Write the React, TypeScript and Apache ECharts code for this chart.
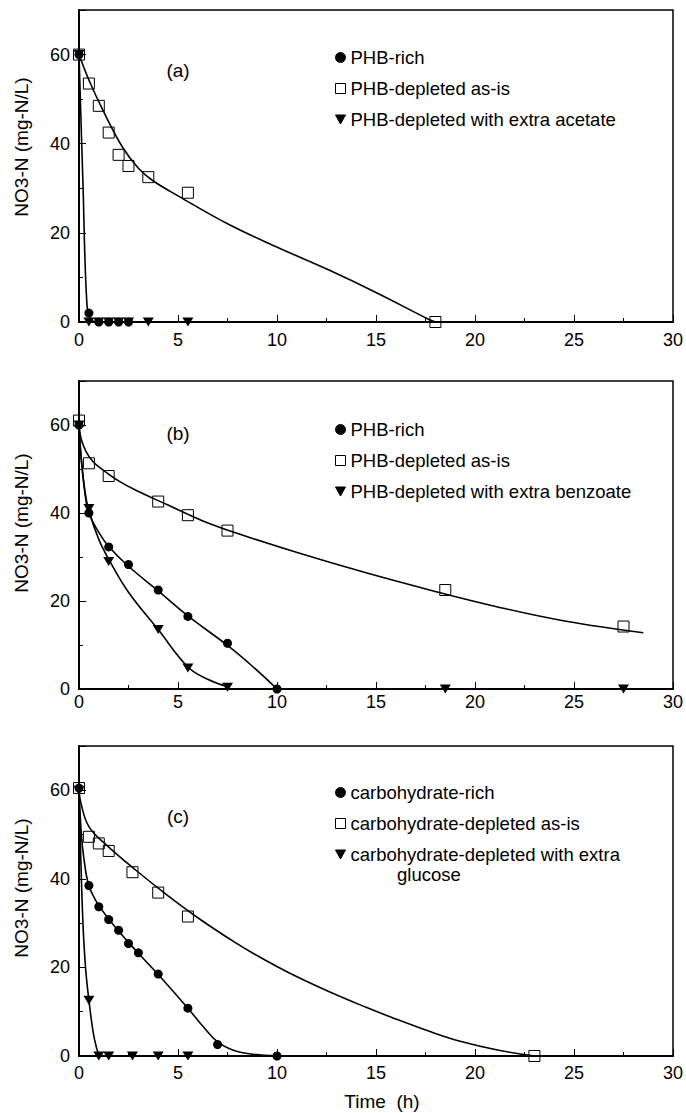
import React, { useEffect, useRef } from "react";
import * as echarts from "echarts";

// ---------- tick labels ----------
const xTickValues = [0, 5, 10, 15, 20, 25, 30];
const yTickValues = [0, 20, 40, 60];

// ---------- Panel (a) ----------
const aRichName = "PHB-rich";
const aDepName = "PHB-depleted as-is";
const aExtraName = "PHB-depleted with extra acetate";
const aRich = [[0, 60], [0.5, 2], [1, 0], [1.5, 0], [2, 0], [2.5, 0]];
const aDepleted = [[0, 60], [0.5, 53.5], [1, 48.5], [1.5, 42.5], [2, 37.5], [2.5, 35], [3.5, 32.5], [5.5, 29], [18, 0]];
const aExtra = [[0, 60], [0.5, 0], [1, 0], [1.5, 0], [2, 0], [2.5, 0], [3.5, 0], [5.5, 0]];
const aRichFit = [[0, 60], [0.2, 31], [0.4, 4], [0.6, 0.5], [1, 0], [5.5, 0]];
const aDepletedFit = [[0, 60], [0.5, 54.3], [1.2, 47.6], [2.2, 39.2], [3, 34.5], [3.7, 31.8], [5, 28.3], [7.6, 21.8], [10.1, 16.6], [12.6, 11.7], [15.1, 6.4], [17.7, 0.5], [18, 0]];

// ---------- Panel (b) ----------
const bRichName = "PHB-rich";
const bDepName = "PHB-depleted as-is";
const bExtraName = "PHB-depleted with extra benzoate";
const bRich = [[0, 60], [0.5, 40], [1.5, 32.3], [2.5, 28.3], [4, 22.5], [5.5, 16.5], [7.5, 10.4], [10, 0]];
const bDepleted = [[0, 61], [0.5, 51.3], [1.5, 48.4], [4, 42.6], [5.5, 39.5], [7.5, 36], [18.5, 22.5], [27.5, 14.2]];
const bExtra = [[0, 60], [0.5, 41], [1.5, 29], [4, 13.5], [5.5, 4.8], [7.5, 0.4], [18.5, 0], [27.5, 0]];
const bRichFit = [[0, 60], [0.1, 53], [0.3, 44.5], [0.5, 40], [1, 35.6], [1.5, 32.4], [2.5, 27.9], [4, 22.3], [5.5, 16.6], [7.5, 9.9], [8.8, 5], [10, 0]];
const bExtraFit = [[0, 60], [0.1, 53], [0.3, 45], [0.5, 40.5], [1, 34], [1.5, 29.5], [2.5, 22], [4, 13.5], [5.5, 5], [6.5, 2.2], [7.5, 0.5]];
const bDepletedFit = [[0, 60], [0.1, 57], [0.35, 54], [0.7, 51.7], [1.2, 49.8], [2, 47.3], [2.9, 45.1], [4.5, 41.8], [6.2, 38.3], [7.9, 35.5], [11.1, 30.9], [14.5, 26.4], [17.8, 22.4], [21.2, 18.6], [24.6, 15.4], [28.5, 12.8]];

// ---------- Panel (c) ----------
const cRichName = "carbohydrate-rich";
const cDepName = "carbohydrate-depleted as-is";
const cExtraName = "carbohydrate-depleted with extra glucose";
const cRich = [[0, 60.5], [0.5, 38.5], [1, 33.7], [1.5, 30.8], [2, 28.4], [2.5, 25.4], [3, 23.3], [4, 18.5], [5.5, 10.8], [7, 2.6], [10, 0]];
const cDepleted = [[0, 60.5], [0.5, 49.5], [1, 48], [1.5, 46.3], [2.7, 41.5], [4, 36.9], [5.5, 31.5], [23, 0]];
const cExtra = [[0, 60], [0.5, 12.6], [1, 0], [1.5, 0], [2.7, 0], [4, 0], [5.5, 0]];
const cRichFit = [[0, 60], [0.12, 50], [0.25, 44.5], [0.5, 38.5], [1, 34], [2, 28.2], [3, 23.2], [4, 18.4], [5.5, 10.8], [6.3, 6.5], [7, 3.2], [7.8, 1.3], [8.6, 0.5], [10, 0]];
const cDepletedFit = [[0, 60], [0.1, 57], [0.5, 51.8], [1.35, 47.8], [2.86, 42], [4.55, 36], [6.2, 30.6], [7.9, 25.6], [9.1, 22.4], [10.6, 18.8], [12.5, 14.8], [14.5, 11], [15.8, 8.7], [17.8, 5.4], [19.2, 3.4], [21.2, 1.3], [23, 0]];
const cExtraFit = [[0, 60], [0.12, 40], [0.22, 28], [0.34, 19.4], [0.5, 12.6], [0.7, 5.8], [0.85, 2.5], [1, 0.5], [1.2, 0], [5.5, 0]];

const FONT = "'Liberation Sans', Arial, Helvetica, sans-serif";
const TRI = "path://M0,0L10,0L5,9Z";

type PanelSpec = {
  top: number;
  height: number;
  label: string;
  labelY: number;
  nameY: number;
  xLabelMargin: number;
  legendTop: number;
  names: string[];
  rich: number[][];
  dep: number[][];
  extra: number[][];
  fits: number[][][];
};

const panels: PanelSpec[] = [
  { top: 10, height: 312, label: "(a)", labelY: 70, nameY: 147, xLabelMargin: 9, legendTop: 43,
    names: [aRichName, aDepName, aExtraName], rich: aRich, dep: aDepleted, extra: aExtra, fits: [aRichFit, aDepletedFit] },
  { top: 381, height: 308, label: "(b)", labelY: 433, nameY: 523, xLabelMargin: 4, legendTop: 415,
    names: [bRichName, bDepName, bExtraName], rich: bRich, dep: bDepleted, extra: bExtra, fits: [bRichFit, bExtraFit, bDepletedFit] },
  { top: 746, height: 310, label: "(c)", labelY: 816, nameY: 888, xLabelMargin: 8, legendTop: 778,
    names: [cRichName, cDepName, cExtraName], rich: cRich, dep: cDepleted, extra: cExtra, fits: [cRichFit, cDepletedFit, cExtraFit] },
];

function buildOption() {
  const grid: any[] = [];
  const xAxis: any[] = [];
  const yAxis: any[] = [];
  const series: any[] = [];
  const legend: any[] = [];
  const graphic: any[] = [];

  panels.forEach((p, i) => {
    grid.push({ left: 79, right: 13, top: p.top, height: p.height, show: true, borderColor: "#000", borderWidth: 1.5, backgroundColor: "transparent" });
    xAxis.push({
      type: "value", gridIndex: i, min: xTickValues[0], max: xTickValues[xTickValues.length - 1], interval: 5,
      axisLine: { onZero: false, lineStyle: { color: "#000", width: 2 } },
      axisTick: { inside: true, length: 7, lineStyle: { color: "#000", width: 1 } },
      minorTick: { show: true, splitNumber: 2, length: 4, lineStyle: { color: "#000", width: 1 } },
      splitLine: { show: false },
      axisLabel: { color: "#000", fontFamily: FONT, fontSize: 18, margin: p.xLabelMargin },
      name: i === 2 ? "Time  (h)" : "",
      nameLocation: "middle",
      nameGap: 36,
      nameTextStyle: { color: "#000", fontFamily: FONT, fontSize: 19, padding: [0, 0, 0, 12] },
    });
    yAxis.push({
      type: "value", gridIndex: i, min: 0, max: 70, interval: 20,
      axisLine: { onZero: false, lineStyle: { color: "#000", width: 2 } },
      axisTick: { inside: true, length: 7, lineStyle: { color: "#000", width: 1 } },
      splitLine: { show: false },
      axisLabel: {
        color: "#000", fontFamily: FONT, fontSize: 18, margin: 9,
        formatter: (v: number) => (yTickValues.indexOf(v) >= 0 ? String(v) : ""),
      },
    });
  });
  panels.forEach((p, i) => {
    yAxis.push({
      type: "value", gridIndex: i, min: 0, max: 70, interval: 10, position: "left",
      axisLine: { show: false }, axisLabel: { show: false }, splitLine: { show: false },
      axisTick: { inside: true, length: 4, lineStyle: { color: "#000", width: 1 } },
    });
  });

  panels.forEach((p, i) => {
    p.fits.forEach((f, k) => {
      series.push({
        type: "line", name: `fit ${p.label} ${k + 1}`, xAxisIndex: i, yAxisIndex: i,
        data: f, smooth: 0.4, showSymbol: false, symbol: "none",
        lineStyle: { color: "#000", width: 1.6 }, z: 2, silent: true,
      });
    });
    series.push({
      type: "scatter", name: p.names[1], xAxisIndex: i, yAxisIndex: i, data: p.dep,
      symbol: "rect", symbolSize: 11,
      itemStyle: { color: "rgba(255,255,255,0)", borderColor: "#000", borderWidth: 1, opacity: 1 }, z: 3,
    });
    series.push({
      type: "scatter", name: p.names[2], xAxisIndex: i, yAxisIndex: i, data: p.extra,
      symbol: TRI, symbolSize: [11, 10], symbolKeepAspect: true,
      itemStyle: { color: "#000", opacity: 1 }, z: 4,
    });
    series.push({
      type: "scatter", name: p.names[0], xAxisIndex: i, yAxisIndex: i, data: p.rich,
      symbol: "circle", symbolSize: 9,
      itemStyle: { color: "#000", opacity: 1 }, z: 5,
    });

    legend.push({
      orient: "vertical", left: 330, top: p.legendTop, itemWidth: 10, itemHeight: 10, itemGap: 12,
      data: p.names, selectedMode: false,
      itemStyle: { borderWidth: 1, borderColor: "#000", opacity: 1 },
      textStyle: { color: "#000", fontFamily: FONT, fontSize: 18.5 },
      formatter: (name: string) => (name === cExtraName ? "carbohydrate-depleted with extra" : name),
    });

    graphic.push({
      type: "text", x: 178, y: p.labelY,
      style: { text: p.label, fontFamily: FONT, fontSize: 19, fill: "#000", align: "center", verticalAlign: "middle" },
    });
    graphic.push({
      type: "text", x: 21, y: p.nameY, rotation: Math.PI / 2,
      style: { text: "NO3-N (mg-N/L)", fontFamily: FONT, fontSize: 19, fill: "#000", align: "center", verticalAlign: "middle" },
    });
  });

  graphic.push({
    type: "text", x: 397, y: 874,
    style: { text: "glucose", fontFamily: FONT, fontSize: 18.5, fill: "#000", align: "left", verticalAlign: "middle" },
  });

  return {
    animation: false,
    backgroundColor: "#fff",
    grid, xAxis, yAxis, series, legend, graphic,
  };
}

export default function App() {
  const ref = useRef<HTMLDivElement>(null);
  useEffect(() => {
    if (!ref.current) return;
    const chart = echarts.init(ref.current, undefined, { renderer: "svg" });
    chart.setOption(buildOption() as any);
    return () => chart.dispose();
  }, []);
  return <div ref={ref} style={{ position: "absolute", left: 0, top: 0, width: 686, height: 1113 }} />;
}
